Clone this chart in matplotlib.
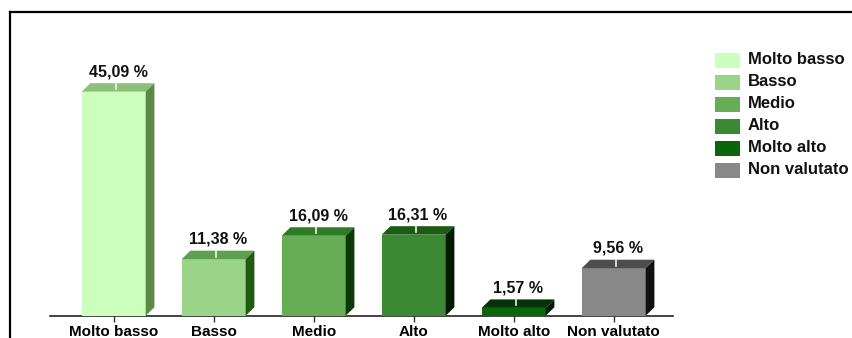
import matplotlib
matplotlib.use("Agg")
import matplotlib.pyplot as plt
from matplotlib.lines import Line2D
from matplotlib.patches import Rectangle

plt.rcParams['font.family'] = ['Liberation Sans', 'DejaVu Sans']

# categories and percentages
categorie = ["Molto basso", "Basso", "Medio", "Alto", "Molto alto", "Non valutato"]
valori = [45.09, 11.38, 16.09, 16.31, 1.57, 9.56]
etichette = ["45,09 %", "11,38 %", "16,09 %", "16,31 %", "1,57 %", "9,56 %"]

# front / top / side colours of each 3d bar
col_fronte = ["#ccffbb", "#99d488", "#66ad55", "#3b8a33", "#0b660b", "#888888"]
col_sopra = ["#8cc07a", "#5f9f4f", "#2f7a25", "#1a5c14", "#053305", "#4d4d4d"]
col_lato = ["#5a8a45", "#1f5c0f", "#0a3a06", "#041a03", "#021a02", "#111111"]

W, H = 852, 338
fig = plt.figure(figsize=(W / 100, H / 100), dpi=100)


def px(x, y):
    # pixel position (from top-left) -> figure fraction
    return x / W, 1 - y / H


# axes: baseline at y=315.7 px, 4.968 px per percent, one category every 100 px
ax_left, ax_right = 50, 673
base_y = 315.7
ppu = 4.968
ymax = 50
ax = fig.add_axes([ax_left / W, (H - base_y) / H, (ax_right - ax_left) / W,
                   ymax * ppu / H])
c0 = 113.7
ax.set_xlim(-(c0 - ax_left) / 100, (ax_right - c0) / 100)
ax.set_ylim(0, ymax)

for s in ["top", "left", "right"]:
    ax.spines[s].set_visible(False)
ax.spines["bottom"].set_color("#222222")
ax.spines["bottom"].set_linewidth(1.2)
ax.set_yticks([])
ax.set_xticks(range(len(categorie)))
ax.set_xticklabels(categorie, fontsize=11, fontweight="bold")
ax.tick_params(axis="x", length=4, width=1, color="#333333", pad=3)

hw = 0.32      # half width of bar front
dx = 0.087     # depth, x
dy = 8.5 / ppu  # depth, y

for i, v in enumerate(valori):
    l, r = i - hw, i + hw
    # front
    ax.fill([l, r, r, l], [0, 0, v, v], color=col_fronte[i], lw=0,
            zorder=3, clip_on=False)
    # top face
    ax.fill([l, r, r + dx, l + dx], [v, v, v + dy, v + dy], color=col_sopra[i],
            lw=0, zorder=3, clip_on=False)
    # side face
    ax.fill([r, r + dx, r + dx, r], [0, dy, v + dy, v], color=col_lato[i],
            lw=0, zorder=3, clip_on=False)
    # small leader line on top face
    ax.plot([i + 0.025, i + 0.025], [v + dy * 0.3, v + dy * 1.05],
            color="#eef5ea", lw=1.2, zorder=4, clip_on=False)
    ax.annotate(etichette[i], (i + dx / 2, v + dy), xytext=(0, 3),
                textcoords="offset points", ha="center", va="bottom",
                fontsize=11.5, fontweight="bold", color="#111111",
                annotation_clip=False)

# legend
for k, nome in enumerate(categorie):
    yc = 60 + 22 * k
    x0, y0 = px(715, yc + 7.5)
    fig.add_artist(Rectangle((x0, y0), 25 / W, 15 / H, transform=fig.transFigure,
                             facecolor=col_fronte[k], edgecolor="none"))
    tx, ty = px(748, yc)
    fig.text(tx, ty, nome, fontsize=12, fontweight="bold", va="center",
             ha="left", color="#111111")

# outer frame
fx0, fy0 = px(10, 12)
fig.add_artist(Line2D([fx0, 1.0], [fy0, fy0], color="black", lw=1.6,
                      transform=fig.transFigure))
fig.add_artist(Line2D([fx0, fx0], [fy0, 0.0], color="black", lw=1.6,
                      transform=fig.transFigure))

fig.savefig("out.png", dpi=100)
